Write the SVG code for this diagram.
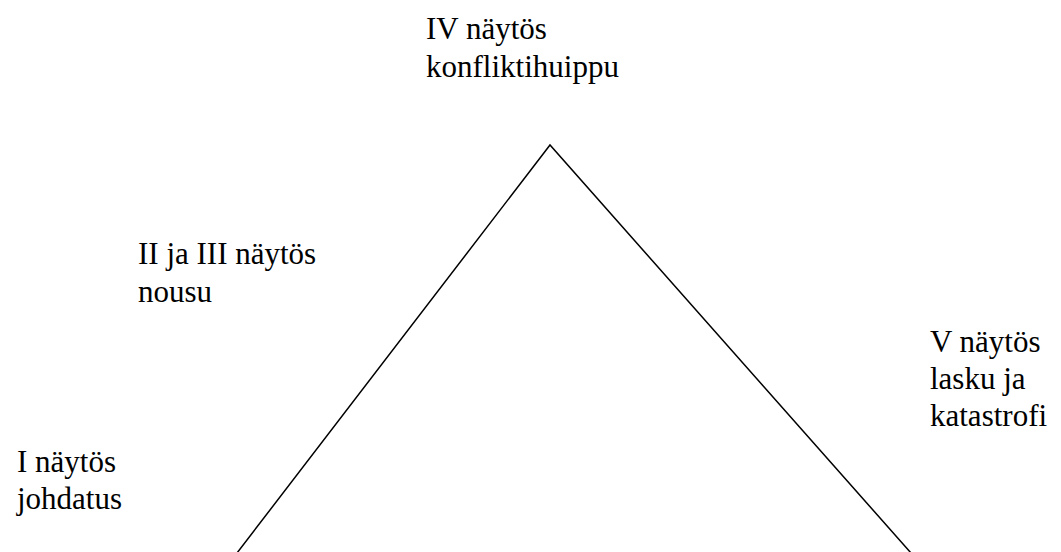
<svg xmlns="http://www.w3.org/2000/svg" width="1061" height="552" viewBox="0 0 1061 552">
<style>
text{font-family:"Liberation Serif","Times New Roman",serif;font-size:31px;fill:#000}
.ln{stroke:#000;stroke-width:1.5;fill:none}
</style>
<rect width="1061" height="552" fill="#fff"/>
<g id="connectors">
<polyline class="ln" points="237,553 550,145 911,553"/>
</g>
<g id="act4"><text x="426" y="39">IV näytös</text><text x="426" y="77">konfliktihuippu</text></g>
<g id="act23"><text x="138" y="264">II ja III näytös</text><text x="138" y="302">nousu</text></g>
<g id="act1"><text x="17" y="472">I näytös</text><text x="17" y="509">johdatus</text></g>
<g id="act5"><text x="930" y="352">V näytös</text><text x="930" y="389">lasku ja</text><text x="930" y="426">katastrofi</text></g>
</svg>
